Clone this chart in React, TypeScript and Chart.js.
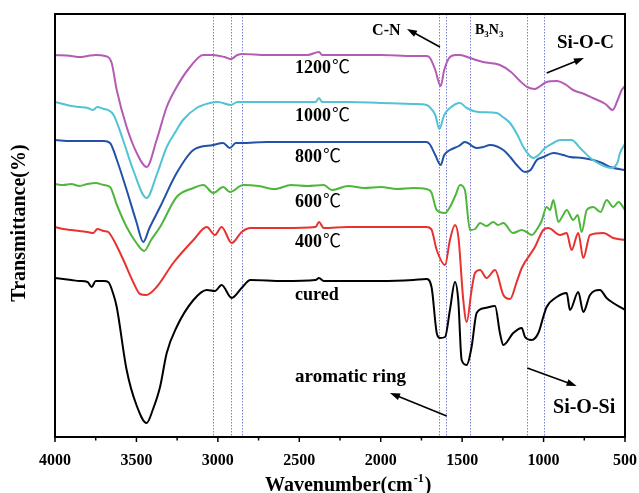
import React, { useEffect, useRef } from "react";
import { Chart, registerables } from "chart.js";
Chart.register(...registerables);

const SERIF = "'Liberation Serif', 'Times New Roman', 'Noto Sans CJK SC', serif";

// x-axis ticks (wavenumber, cm-1)
const xTicks = [4000, 3500, 3000, 2500, 2000, 1500, 1000, 500];
const minorTicks = [3750, 3250, 2750, 2250, 1750, 1250, 750];
// marker wavenumbers (dotted lines)
const markerLines = [3030, 2920, 2850, 1640, 1600, 1450, 1100, 1000];

// 1200 ℃
const w1200 = [4000, 3900, 3850, 3800, 3750, 3693, 3652, 3621, 3560, 3498, 3437, 3376, 3314, 3253, 3171, 3090, 3030, 2960, 2920, 2880, 2850, 2700, 2450, 2379, 2360, 2200, 2000, 1800, 1720, 1697, 1665, 1632, 1610, 1580, 1540, 1513, 1452, 1372, 1268, 1200, 1145, 1100, 1053, 1020, 981, 919, 860, 819, 750, 697, 620, 576, 545, 520, 500];
const t1200 = [382, 381, 380, 381, 382, 381, 374, 347, 310, 284, 270, 297, 330, 350, 370, 382, 382, 380, 378, 382, 383, 382, 382, 385, 382, 382, 382, 381, 381, 379, 367, 351, 367, 379, 382, 382, 379, 375, 372, 365, 356, 350, 348, 351, 355, 356, 352, 347, 343, 339, 333, 327, 337, 347, 351];

// 1000 ℃
const w1000 = [4000, 3950, 3900, 3850, 3800, 3767, 3740, 3700, 3675, 3640, 3582, 3520, 3437, 3376, 3314, 3253, 3214, 3130, 3048, 3000, 2920, 2880, 2700, 2400, 2379, 2360, 2200, 2000, 1800, 1720, 1700, 1665, 1640, 1610, 1575, 1513, 1473, 1400, 1288, 1250, 1206, 1160, 1124, 1063, 1030, 991, 940, 899, 828, 776, 697, 582, 545, 531, 500];
const t1000 = [335, 333, 331, 330, 329, 327, 330, 328, 327, 322, 297, 267, 239, 262, 290, 307, 317, 329, 334, 335, 332, 335, 335, 335, 339, 335, 335, 334, 333, 332, 330, 322, 308, 322, 329, 334, 329, 325, 324, 320, 314, 302, 290, 279, 282, 289, 294, 297, 297, 289, 277, 269, 275, 284, 293];

// 800 ℃
const w800 = [4000, 3900, 3800, 3700, 3662, 3620, 3560, 3500, 3458, 3420, 3355, 3253, 3150, 3030, 2968, 2926, 2890, 2854, 2700, 2400, 2200, 2000, 1800, 1720, 1700, 1665, 1632, 1610, 1575, 1520, 1483, 1411, 1370, 1329, 1247, 1200, 1165, 1114, 1080, 1042, 1000, 940, 880, 838, 760, 695, 640, 592, 500];
const t800 = [297, 296, 296, 296, 294, 277, 247, 215, 195, 209, 230, 264, 287, 292, 294, 289, 294, 294, 295, 295, 295, 295, 295, 295, 293, 282, 272, 282, 287, 291, 295, 289, 290, 292, 287, 279, 272, 265, 267, 277, 280, 284, 282, 280, 279, 277, 274, 270, 267];

// 600 ℃
const w600 = [4000, 3950, 3900, 3850, 3800, 3750, 3700, 3662, 3620, 3560, 3500, 3453, 3410, 3355, 3253, 3150, 3089, 3028, 2967, 2926, 2844, 2750, 2650, 2550, 2450, 2350, 2300, 2200, 2100, 2000, 1900, 1800, 1720, 1690, 1656, 1605, 1575, 1540, 1513, 1483, 1452, 1420, 1390, 1350, 1309, 1280, 1247, 1188, 1134, 1104, 1073, 1032, 1012, 981, 960, 940, 909, 880, 858, 818, 790, 766, 735, 695, 650, 613, 572, 540, 500];
const t600 = [253, 252, 253, 251, 253, 254, 252, 250, 232, 210, 194, 186, 197, 210, 240, 249, 252, 244, 250, 245, 252, 251, 248, 252, 251, 252, 247, 251, 249, 250, 248, 249, 248, 245, 227, 224, 230, 242, 252, 247, 207, 208, 214, 211, 215, 212, 214, 204, 207, 205, 202, 210, 216, 230, 227, 237, 215, 222, 227, 217, 222, 205, 227, 230, 225, 237, 230, 235, 227];

// 400 ℃
const w400 = [4000, 3950, 3900, 3850, 3800, 3765, 3740, 3700, 3673, 3640, 3580, 3520, 3478, 3440, 3376, 3274, 3150, 3068, 3018, 2977, 2915, 2854, 2800, 2600, 2400, 2379, 2350, 2200, 2000, 1800, 1720, 1690, 1656, 1605, 1575, 1544, 1523, 1493, 1472, 1442, 1421, 1390, 1350, 1298, 1247, 1206, 1165, 1134, 1053, 1002, 971, 899, 858, 828, 787, 756, 715, 633, 572, 500];
const t400 = [210, 208, 207, 206, 205, 204, 208, 206, 205, 197, 177, 155, 143, 142, 150, 174, 197, 210, 202, 210, 194, 205, 209, 209, 210, 215, 209, 210, 210, 210, 210, 208, 187, 172, 197, 212, 200, 137, 115, 147, 164, 167, 159, 167, 142, 138, 155, 169, 190, 207, 209, 202, 204, 187, 204, 179, 202, 204, 199, 197];

// cured
const wCured = [4000, 3900, 3850, 3800, 3775, 3750, 3700, 3673, 3640, 3621, 3560, 3500, 3437, 3400, 3355, 3314, 3253, 3150, 3068, 3018, 2977, 2915, 2854, 2800, 2600, 2400, 2379, 2350, 2200, 2000, 1800, 1720, 1688, 1656, 1636, 1605, 1575, 1544, 1524, 1503, 1472, 1442, 1411, 1360, 1298, 1268, 1247, 1186, 1134, 1114, 1073, 1032, 1002, 981, 919, 858, 838, 787, 756, 715, 654, 613, 572, 500];
const tCured = [159, 157, 156, 155, 150, 156, 156, 155, 142, 130, 67, 32, 14, 27, 50, 84, 110, 137, 147, 146, 152, 139, 149, 157, 156, 157, 159, 156, 156, 156, 157, 158, 150, 104, 99, 100, 127, 155, 137, 77, 72, 90, 124, 129, 131, 104, 92, 104, 109, 100, 97, 104, 120, 130, 140, 144, 127, 145, 125, 142, 147, 139, 134, 127];

const seriesLabels = ["1200", "1000", "800", "600", "400", "cured"];
const seriesUnits = ["℃", "℃", "℃", "℃", "℃", ""];
const seriesColors = ["#b45bb4", "#52c3d5", "#2251a8", "#4fb63c", "#e8322f", "#000000"];
const seriesW = [w1200, w1000, w800, w600, w400, wCured];
const seriesT = [t1200, t1000, t800, t600, t400, tCured];
// label anchors (wavenumber, value)
const labelW = [2526, 2526, 2526, 2526, 2526, 2526];
const labelT = [369, 321, 280, 235, 195, 142];

const FONT_LABEL = `bold 18px ${SERIF}`;
const FONT_UNIT = `18px 'Noto Sans CJK SC', 'DejaVu Sans', sans-serif`;

function drawArrow(ctx: CanvasRenderingContext2D, x1: number, y1: number, x2: number, y2: number) {
  const ang = Math.atan2(y2 - y1, x2 - x1);
  const hl = 10, hw = 3.5;
  ctx.save();
  ctx.strokeStyle = "#000";
  ctx.fillStyle = "#000";
  ctx.lineWidth = 1.6;
  ctx.beginPath();
  ctx.moveTo(x1, y1);
  ctx.lineTo(x2 - Math.cos(ang) * hl * 0.8, y2 - Math.sin(ang) * hl * 0.8);
  ctx.stroke();
  ctx.beginPath();
  ctx.moveTo(x2, y2);
  ctx.lineTo(x2 - Math.cos(ang) * hl - Math.sin(ang) * hw, y2 - Math.sin(ang) * hl + Math.cos(ang) * hw);
  ctx.lineTo(x2 - Math.cos(ang) * hl + Math.sin(ang) * hw, y2 - Math.sin(ang) * hl - Math.cos(ang) * hw);
  ctx.closePath();
  ctx.fill();
  ctx.restore();
}

const annotPlugin = {
  id: "ftirAnnot",
  beforeDatasetsDraw(chart: any) {
    const { ctx, chartArea: a, scales } = chart;
    ctx.save();
    ctx.strokeStyle = "#7b7fd6";
    ctx.lineWidth = 1;
    ctx.setLineDash([1.5, 1.5]);
    markerLines.forEach((w) => {
      const x = Math.round(scales.x.getPixelForValue(w)) + 0.5;
      ctx.beginPath();
      ctx.moveTo(x, a.top);
      ctx.lineTo(x, a.bottom);
      ctx.stroke();
    });
    ctx.restore();
  },
  afterDraw(chart: any) {
    const { ctx, chartArea: a, scales } = chart;
    const X = (w: number) => scales.x.getPixelForValue(w);
    const Y = (v: number) => scales.y.getPixelForValue(v);
    ctx.save();
    // frame
    ctx.strokeStyle = "#000";
    ctx.lineWidth = 2;
    ctx.strokeRect(a.left, a.top, a.right - a.left, a.bottom - a.top);
    // ticks
    ctx.lineWidth = 1.5;
    xTicks.forEach((w) => {
      const x = X(w);
      ctx.beginPath();
      ctx.moveTo(x, a.bottom);
      ctx.lineTo(x, a.bottom + 5);
      ctx.stroke();
    });
    minorTicks.forEach((w) => {
      const x = X(w);
      ctx.beginPath();
      ctx.moveTo(x, a.bottom);
      ctx.lineTo(x, a.bottom + 3.5);
      ctx.stroke();
    });
    // series labels
    ctx.fillStyle = "#000";
    ctx.textBaseline = "middle";
    ctx.textAlign = "left";
    seriesLabels.forEach((s, i) => {
      const x = X(labelW[i]);
      const y = Y(labelT[i]);
      ctx.font = FONT_LABEL;
      ctx.fillText(s, x, y);
      if (seriesUnits[i]) {
        const wd = ctx.measureText(s).width;
        ctx.font = FONT_UNIT;
        ctx.fillText(seriesUnits[i], x + wd + 1, y - 2);
      }
    });
    // group annotations
    ctx.font = `bold 16px ${SERIF}`;
    ctx.fillText("C-N", X(2053), Y(406));
    // B3N3
    let bx = X(1421);
    const by = Y(407);
    const parts: [string, boolean][] = [["B", false], ["3", true], ["N", false], ["3", true]];
    parts.forEach(([t, sub]) => {
      ctx.font = sub ? `bold 9px ${SERIF}` : `bold 14px ${SERIF}`;
      ctx.fillText(t, bx, sub ? by + 5 : by);
      bx += ctx.measureText(t).width;
    });
    ctx.font = `bold 19px ${SERIF}`;
    ctx.fillText("Si-O-C", X(918), Y(394));
    ctx.font = `bold 19px ${SERIF}`;
    ctx.fillText("aromatic ring", X(2526), Y(60));
    ctx.font = `bold 20px ${SERIF}`;
    ctx.fillText("Si-O-Si", X(942), Y(29));
    // arrows
    drawArrow(ctx, X(1636), Y(390), X(1839), Y(408));
    drawArrow(ctx, X(981), Y(364), X(752), Y(379));
    drawArrow(ctx, X(1595), Y(21), X(1943), Y(44));
    drawArrow(ctx, X(1100), Y(69), X(797), Y(51));
    // x title
    ctx.font = `bold 20px ${SERIF}`;
    ctx.textBaseline = "alphabetic";
    const t1 = "Wavenumber(cm";
    let tx = 265;
    const ty = 491;
    ctx.fillText(t1, tx, ty);
    tx += ctx.measureText(t1).width + 1;
    ctx.font = `bold 12px ${SERIF}`;
    ctx.fillText("-1", tx, ty - 9);
    tx += ctx.measureText("-1").width + 1;
    ctx.font = `bold 20px ${SERIF}`;
    ctx.fillText(")", tx, ty);
    // y title
    ctx.save();
    ctx.translate(20, 223);
    ctx.rotate(-Math.PI / 2);
    ctx.textAlign = "center";
    ctx.textBaseline = "middle";
    ctx.font = `bold 20px ${SERIF}`;
    ctx.fillText("Transmittance(%)", 0, 0);
    ctx.restore();
    ctx.restore();
  },
};

export default function App() {
  const ref = useRef<HTMLCanvasElement>(null);
  useEffect(() => {
    document.body.style.margin = "0";
    const chart = new Chart(ref.current as HTMLCanvasElement, {
      type: "line",
      data: {
        datasets: seriesLabels.map((label, i) => ({
          label: label + seriesUnits[i],
          data: seriesW[i].map((w, j) => ({ x: w, y: seriesT[i][j] })),
          borderColor: seriesColors[i],
          borderWidth: 2,
          pointRadius: 0,
          fill: false,
          cubicInterpolationMode: "monotone" as const,
        })),
      },
      options: {
        responsive: false,
        animation: false,
        layout: { padding: { left: 55, top: 14, right: 14, bottom: 0 } },
        plugins: { legend: { display: false }, tooltip: { enabled: false } },
        scales: {
          x: {
            type: "linear",
            reverse: true,
            min: 500,
            max: 4000,
            afterBuildTicks: (s: any) => {
              s.ticks = xTicks.map((v) => ({ value: v }));
            },
            afterFit: (s: any) => {
              s.height = 56;
              s.paddingLeft = 0;
              s.paddingRight = 0;
            },
            grid: { display: false, drawTicks: false },
            border: { display: false },
            ticks: {
              autoSkip: false,
              maxRotation: 0,
              padding: 14,
              color: "#000",
              font: { family: SERIF, size: 16, weight: "bold" },
              callback: (v: any) => String(v),
            },
          },
          y: { display: false, min: 0, max: 423 },
        },
      },
      plugins: [annotPlugin],
    });
    return () => chart.destroy();
  }, []);
  return (
    <div style={{ position: "absolute", left: 0, top: 0, width: 639, height: 493, background: "#fff" }}>
      <canvas ref={ref} width={639} height={493} />
    </div>
  );
}
